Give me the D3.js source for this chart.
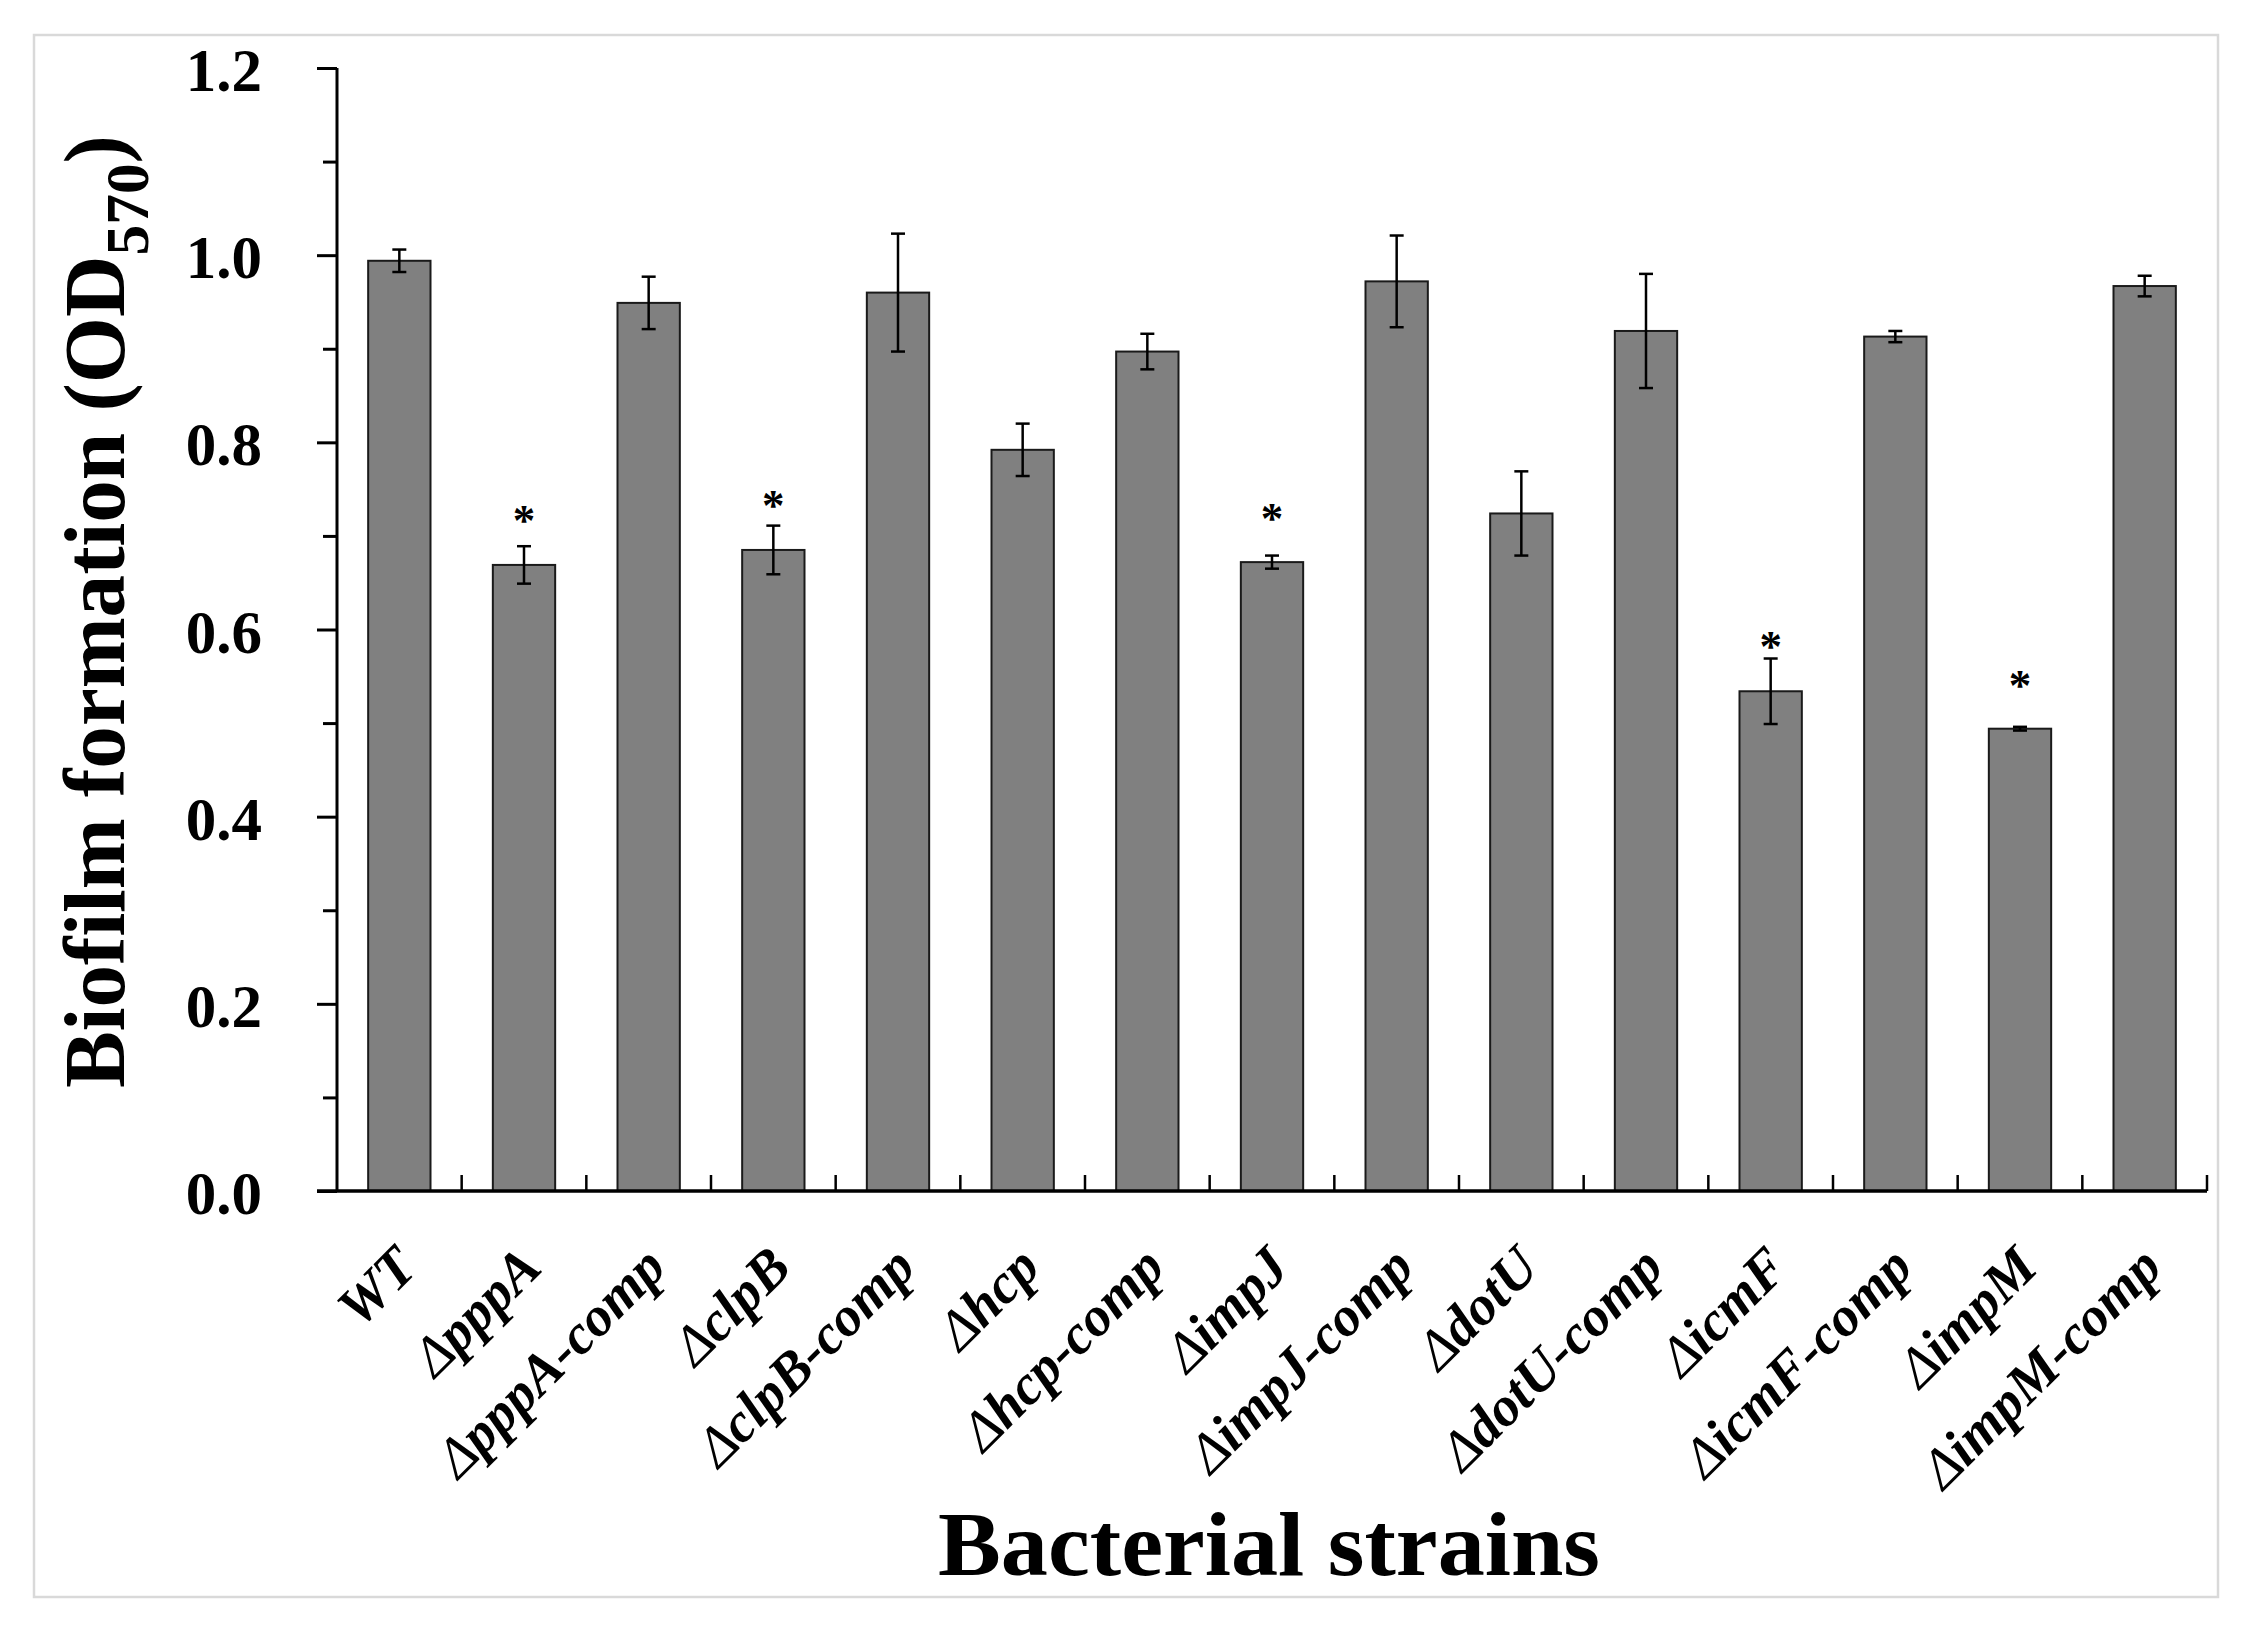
<!DOCTYPE html>
<html>
<head>
<meta charset="utf-8">
<script src="https://cdn.jsdelivr.net/npm/d3@7/dist/d3.min.js"></script>
<style>
  html, body { margin: 0; padding: 0; background: #fff; }
  svg { display: block; }
  text { font-family: "Liberation Serif", "Times New Roman", serif; }
</style>
</head>
<body>
<svg id="chart" width="2244" height="1640"></svg>
<script>
// ---- data ----
const categories = ["WT", "ΔpppA", "ΔpppA-comp", "ΔclpB", "ΔclpB-comp", "Δhcp", "Δhcp-comp",
  "ΔimpJ", "ΔimpJ-comp", "ΔdotU", "ΔdotU-comp", "ΔicmF", "ΔicmF-comp", "ΔimpM", "ΔimpM-comp"];
const means = [0.994, 0.669, 0.949, 0.685, 0.960, 0.792, 0.897, 0.672, 0.972, 0.724, 0.919, 0.534, 0.913, 0.494, 0.967];
const errors = [0.012, 0.020, 0.028, 0.026, 0.063, 0.028, 0.019, 0.007, 0.049, 0.045, 0.061, 0.035, 0.006, 0.002, 0.011];
// level (in OD units) where the significance asterisk sits; null = none
const starLevels = [null, 0.724, null, 0.740, null, null, null, 0.726, null, null, null, 0.589, null, 0.548, null];
const majorTicks = [0, 0.2, 0.4, 0.6, 0.8, 1.0, 1.2];
const minorTicks = [0.1, 0.3, 0.5, 0.7, 0.9, 1.1];
const yTitle = "Biofilm formation (OD";
const ySub = "570";
const xTitle = "Bacterial strains";

// ---- layout ----
const svg = d3.select("#chart");
svg.append("rect").attr("width", 2244).attr("height", 1640).attr("fill", "#fff");
svg.append("rect").attr("x", 34).attr("y", 35).attr("width", 2184).attr("height", 1562)
  .attr("fill", "none").attr("stroke", "#d9d9d9").attr("stroke-width", 2.5);

const x0 = 337, x1 = 2207, yTop = 68, yBot = 1191;
const y = d3.scaleLinear().domain([0, 1.2]).range([yBot, yTop]);
const x = d3.scaleBand().domain(categories).range([x0, x1]).paddingInner(0.5).paddingOuter(0.25);
const step = x.step();

// bars
svg.append("g").selectAll("rect").data(categories).join("rect")
  .attr("x", d => x(d))
  .attr("y", (d, i) => y(means[i]))
  .attr("width", x.bandwidth())
  .attr("height", (d, i) => y(0) - y(means[i]))
  .attr("fill", "#808080")
  .attr("stroke", "#1a1a1a")
  .attr("stroke-width", 2);

// error bars
const eg = svg.append("g").attr("stroke", "#000").attr("stroke-width", 2.5);
categories.forEach((c, i) => {
  const cx = x(c) + x.bandwidth() / 2;
  const yh = y(means[i] + errors[i]), yl = y(means[i] - errors[i]);
  eg.append("line").attr("x1", cx).attr("x2", cx).attr("y1", yh).attr("y2", yl);
  eg.append("line").attr("x1", cx - 7).attr("x2", cx + 7).attr("y1", yh).attr("y2", yh);
  eg.append("line").attr("x1", cx - 7).attr("x2", cx + 7).attr("y1", yl).attr("y2", yl);
});

// asterisks
svg.append("g").selectAll("text").data(categories.filter((c, i) => starLevels[i] !== null)).join("text")
  .attr("x", d => x(d) + x.bandwidth() / 2)
  .attr("y", d => y(starLevels[categories.indexOf(d)]) + 0.48 * 45)
  .attr("text-anchor", "middle")
  .attr("font-size", 45).attr("font-weight", "bold")
  .text("*");

// y axis major
const yAxis = d3.axisLeft(y).tickValues(majorTicks).tickSize(20).tickPadding(55)
  .tickFormat(d3.format(".1f"));
const ya = svg.append("g").attr("transform", `translate(${x0},0)`).call(yAxis);
ya.select(".domain").attr("stroke", "#000").attr("stroke-width", 3)
  .attr("d", `M0,${yTop}V${yBot}`);
ya.selectAll(".tick line").attr("stroke", "#000").attr("stroke-width", 3);
ya.selectAll(".tick text").attr("font-family", '"Liberation Serif", "Times New Roman", serif')
  .attr("font-size", 61).attr("font-weight", "bold").attr("fill", "#000").attr("dy", "0.37em");

// y axis minor
const yMinor = d3.axisLeft(y).tickValues(minorTicks).tickSize(14).tickFormat("");
const ym = svg.append("g").attr("transform", `translate(${x0},0)`).call(yMinor);
ym.select(".domain").remove();
ym.selectAll(".tick line").attr("stroke", "#000").attr("stroke-width", 3);

// x axis line + inward ticks at category boundaries
const xg = svg.append("g");
xg.append("line").attr("x1", x0 - 20).attr("x2", x1).attr("y1", yBot).attr("y2", yBot)
  .attr("stroke", "#000").attr("stroke-width", 3.5);
categories.forEach((c, i) => {
  const bx = x(c) + x.bandwidth() / 2 + step / 2;
  xg.append("line").attr("x1", bx).attr("x2", bx).attr("y1", yBot).attr("y2", yBot - 16)
    .attr("stroke", "#000").attr("stroke-width", 2.5);
});

// x category labels (rotated); the delta sign is drawn in regular weight
const lbl = svg.append("g").selectAll("text").data(categories).join("text")
  .attr("transform", d => `translate(${x(d) + x.bandwidth() / 2 + 20},1270) rotate(-45)`)
  .attr("text-anchor", "end")
  .attr("font-size", 56).attr("font-weight", "bold").attr("font-style", "italic");
lbl.each(function(d) {
  const t = d3.select(this);
  if (d.startsWith("Δ")) {
    t.append("tspan").attr("font-weight", "normal").text("Δ");
    t.append("tspan").text(d.slice(1));
  } else {
    t.text(d);
  }
});

// y title
const yt = svg.append("text")
  .attr("text-anchor", "middle")
  .attr("font-size", 86).attr("font-weight", "bold");
yt.append("tspan").text(yTitle);
yt.append("tspan").attr("font-size", 62).attr("dy", 24).text(ySub);
yt.append("tspan").attr("dy", -24).text(")");
const ytLen = yt.node().getComputedTextLength();
const ytScale = 953 / ytLen;
yt.attr("transform", `translate(124,611.5) rotate(-90) scale(${ytScale},1)`);

// x title
const xt = svg.append("text")
  .attr("text-anchor", "middle")
  .attr("font-size", 90).attr("font-weight", "bold")
  .text(xTitle);
const xtLen = xt.node().getComputedTextLength();
xt.attr("transform", `translate(1269,1575) scale(${662 / xtLen},1)`);
</script>
</body>
</html>
